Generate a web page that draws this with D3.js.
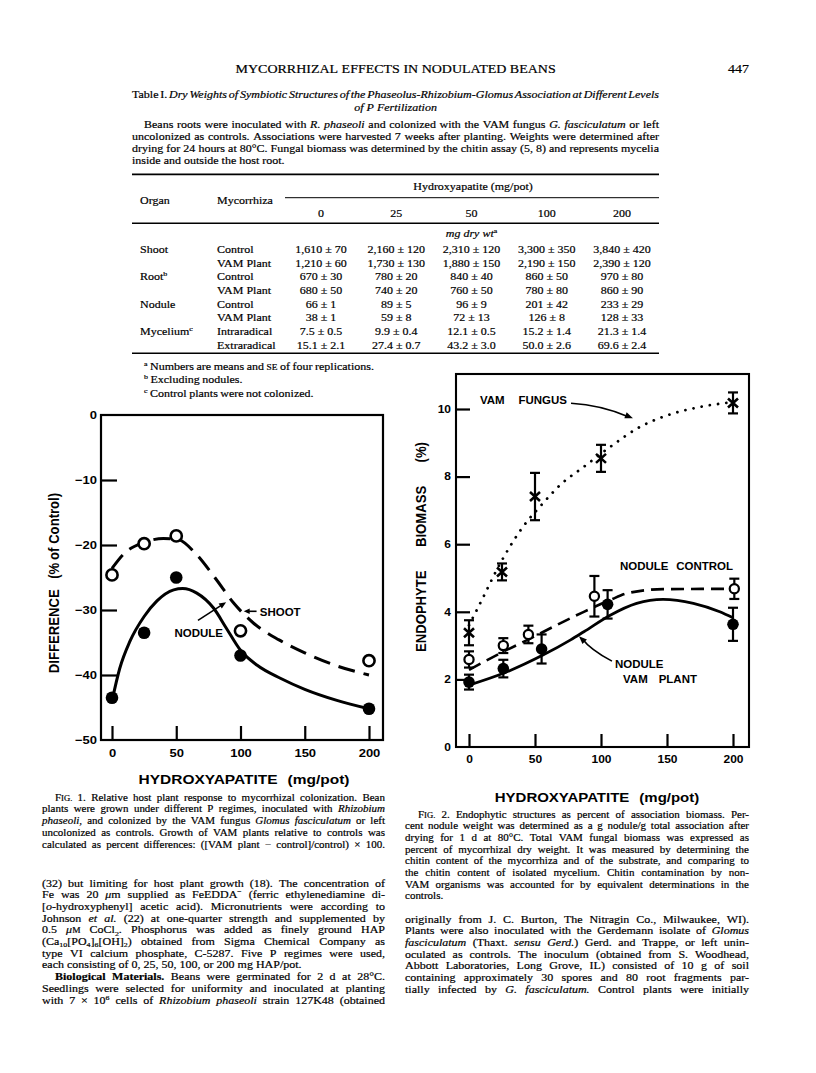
<!DOCTYPE html>
<html><head><meta charset="utf-8">
<script src="https://cdn.jsdelivr.net/npm/d3@7"></script>
<style>html,body{margin:0;padding:0;background:#fff;}svg{display:block;}</style>
</head><body>
<svg id="page" width="816" height="1073" xmlns="http://www.w3.org/2000/svg"></svg>
<script>
// ================= DATA =================
// Table I
const hapColumns = ["0", "25", "50", "100", "200"];
const organLabels = ["Shoot", "", "Root^b^", "", "Nodule", "", "Mycelium^c^", ""];
const mycorrhizaLabels = ["Control", "VAM Plant", "Control", "VAM Plant", "Control", "VAM Plant", "Intraradical", "Extraradical"];
const shootControl = ["1,610 ± 70", "2,160 ± 120", "2,310 ± 120", "3,300 ± 350", "3,840 ± 420"];
const shootVAM = ["1,210 ± 60", "1,730 ± 130", "1,880 ± 150", "2,190 ± 150", "2,390 ± 120"];
const rootControl = ["670 ± 30", "780 ± 20", "840 ± 40", "860 ± 50", "970 ± 80"];
const rootVAM = ["680 ± 50", "740 ± 20", "760 ± 50", "780 ± 80", "860 ± 90"];
const noduleControl = ["66 ± 1", "89 ± 5", "96 ± 9", "201 ± 42", "233 ± 29"];
const noduleVAM = ["38 ± 1", "59 ± 8", "72 ± 13", "126 ± 8", "128 ± 33"];
const myceliumIntra = ["7.5 ± 0.5", "9.9 ± 0.4", "12.1 ± 0.5", "15.2 ± 1.4", "21.3 ± 1.4"];
const myceliumExtra = ["15.1 ± 2.1", "27.4 ± 0.7", "43.2 ± 3.0", "50.0 ± 2.6", "69.6 ± 2.4"];
const tableRows = [shootControl, shootVAM, rootControl, rootVAM, noduleControl, noduleVAM, myceliumIntra, myceliumExtra];

// Fig. 1 : difference (% of control)
const fig1X = [0, 25, 50, 100, 200];
const fig1Shoot = [-24.6, -19.8, -18.6, -33.2, -37.8];
const fig1Nodule = [-43.5, -33.5, -25.0, -37.0, -45.2];
const fig1ShootFitX = [0, 10, 25, 40, 52, 65, 80, 95, 110, 130, 150, 175, 200];
const fig1ShootFitY = [-23.6, -21.2, -19.6, -19.0, -19.2, -21.3, -25.0, -29.0, -32.0, -34.6, -36.6, -38.6, -40.0];
const fig1NoduleFitX = [0, 6, 14, 25, 35, 48, 55, 66, 79, 89, 100, 113, 131, 150, 175, 200];
const fig1NoduleFitY = [-44, -39, -34.8, -31, -28.6, -26.9, -26.7, -27.4, -29.7, -32.8, -36.2, -38.5, -40.5, -42.2, -43.9, -45.2];
const fig1YTicks = [0, -10, -20, -30, -40, -50];
const fig1XTicks = [0, 50, 100, 150, 200];

// Fig. 2 : endophyte biomass (%)
const fig2VamX = [0, 25, 50, 100, 200];
const fig2Vam = [3.38, 5.18, 7.41, 8.54, 10.18];
const fig2VamErr = [0.37, 0.25, 0.70, 0.40, 0.31];
const fig2CtrlX = [0, 26, 45, 95, 201];
const fig2Ctrl = [2.59, 3.00, 3.33, 4.46, 4.68];
const fig2CtrlErr = [0.24, 0.22, 0.26, 0.60, 0.30];
const fig2PlantX = [0, 26, 55, 105, 200];
const fig2Plant = [1.92, 2.32, 2.90, 4.22, 3.63];
const fig2PlantErr = [0.22, 0.26, 0.43, 0.42, 0.49];
const fig2VamFitX = [0, 11, 21, 31, 41, 56, 69, 87, 107, 130, 147, 170, 193, 200];
const fig2VamFitY = [3.6, 4.45, 5.24, 5.93, 6.52, 7.21, 7.75, 8.29, 8.88, 9.48, 9.77, 10.02, 10.17, 10.2];
const fig2CtrlFitX = [0, 26, 46, 69, 87, 107, 120, 147, 200];
const fig2CtrlFitY = [2.28, 2.82, 3.2, 3.66, 4.0, 4.35, 4.55, 4.67, 4.68];
const fig2PlantFitX = [0, 26, 56, 77, 87, 107, 127, 147, 170, 190, 200];
const fig2PlantFitY = [1.83, 2.18, 2.72, 3.17, 3.41, 3.9, 4.25, 4.37, 4.25, 4.0, 3.82];
const fig2YTicks = [0, 2, 4, 6, 8, 10];
const fig2XTicks = [0, 50, 100, 150, 200];

// Text
const headerText = "MYCORRHIZAL EFFECTS IN NODULATED BEANS";
const pageNumber = "447";
const tableTitle = ["Table I. _Dry Weights of Symbiotic Structures of the Phaseolus-Rhizobium-Glomus Association at Different Levels_", "_of P Fertilization_"];
const tableDescription = [
  "Beans roots were inoculated with _R. phaseoli_ and colonized with the VAM fungus _G. fasciculatum_ or left",
  "uncolonized as controls. Associations were harvested 7 weeks after planting. Weights were determined after",
  "drying for 24 hours at 80°C. Fungal biomass was determined by the chitin assay (5, 8) and represents mycelia",
  "inside and outside the host root."];
const tableFootnotes = ["^a^ Numbers are means and |se| of four replications.", "^b^ Excluding nodules.", "^c^ Control plants were not colonized."];
const fig1Caption = [
  "F|ig.| 1. Relative host plant response to mycorrhizal colonization. Bean",
  "plants were grown under different P regimes, inoculated with _Rhizobium_",
  "_phaseoli_, and colonized by the VAM fungus _Glomus fasciculatum_ or left",
  "uncolonized as controls. Growth of VAM plants relative to controls was",
  "calculated as percent differences: ([VAM plant − control]/control) × 100."];
const fig2Caption = [
  "F|ig.| 2. Endophytic structures as percent of association biomass. Per-",
  "cent nodule weight was determined as a g nodule/g total association after",
  "drying for 1 d at 80°C. Total VAM fungal biomass was expressed as",
  "percent of mycorrhizal dry weight. It was measured by determining the",
  "chitin content of the mycorrhiza and of the substrate, and comparing to",
  "the chitin content of isolated mycelium. Chitin contamination by non-",
  "VAM organisms was accounted for by equivalent determinations in the",
  "controls."];
const leftBody = [
  "(32) but limiting for host plant growth (18). The concentration of",
  "Fe was 20 _μ_m supplied as FeEDDA^−^ (ferric ethylenediamine di-",
  "[_o_-hydroxyphenyl] acetic acid). Micronutrients were according to",
  "Johnson _et al._ (22) at one-quarter strength and supplemented by",
  "0.5 _μ_|m| CoCl~2~. Phosphorus was added as finely ground HAP",
  "(Ca~10~[PO~4~]~6~[OH]~2~) obtained from Sigma Chemical Company as",
  "type VI calcium phosphate, C-5287. Five P regimes were used,",
  "each consisting of 0, 25, 50, 100, or 200 mg HAP/pot.",
  "*Biological Materials.* Beans were germinated for 2 d at 28°C.",
  "Seedlings were selected for uniformity and inoculated at planting",
  "with 7 × 10^6^ cells of _Rhizobium phaseoli_ strain 127K48 (obtained"];
const rightBody = [
  "originally from J. C. Burton, The Nitragin Co., Milwaukee, WI).",
  "Plants were also inoculated with the Gerdemann isolate of _Glomus_",
  "_fasciculatum_ (Thaxt. _sensu Gerd._) Gerd. and Trappe, or left unin-",
  "oculated as controls. The inoculum (obtained from S. Woodhead,",
  "Abbott Laboratories, Long Grove, IL) consisted of 10 g of soil",
  "containing approximately 30 spores and 80 root fragments par-",
  "tially infected by _G. fasciculatum._ Control plants were initially"];

// ================= HELPERS =================
const SERIF = "'Liberation Serif','Times New Roman',Times,serif";
const SANS = "'Liberation Sans',Arial,Helvetica,sans-serif";
const SY = 0.875; // vertical compression of the scanned page
const svg = d3.select('#page');
svg.append('rect').attr('width', 816).attr('height', 1073).attr('fill', '#fff');

function parseRich(str) {
  const runs = []; let st = {i:false,b:false,sup:false,sub:false,sc:false}; let buf = '';
  const push = () => { if (buf) { runs.push(Object.assign({t:buf}, st)); buf = ''; } };
  for (const ch of str) {
    if (ch === '_') { push(); st = Object.assign({}, st, {i:!st.i}); }
    else if (ch === '*') { push(); st = Object.assign({}, st, {b:!st.b}); }
    else if (ch === '^') { push(); st = Object.assign({}, st, {sup:!st.sup}); }
    else if (ch === '~') { push(); st = Object.assign({}, st, {sub:!st.sub}); }
    else if (ch === '|') { push(); st = Object.assign({}, st, {sc:!st.sc}); }
    else buf += ch;
  }
  push();
  const words = [[]];
  runs.forEach(r => {
    r.t.split(' ').forEach((p, k) => {
      if (k > 0) words.push([]);
      if (p) words[words.length - 1].push(Object.assign({}, r, {t:p}));
    });
  });
  return words.filter(w => w.length);
}
function makeWord(parent, runs, fs, family, weight) {
  const t = parent.append('text').attr('font-family', family).attr('font-size', fs)
    .attr('font-weight', weight || 'normal').attr('fill', '#000');
  if (family === SERIF) t.attr('stroke', '#000').attr('stroke-width', 0.22);
  let shift = 0;
  runs.forEach(r => {
    let size = fs, target = 0, txt = r.t;
    if (r.sup) { size = fs * 0.66; target = -fs * 0.38; }
    if (r.sub) { size = fs * 0.66; target = fs * 0.22; }
    if (r.sc) { size = fs * 0.78; txt = txt.toUpperCase(); }
    const ts = t.append('tspan').text(txt).attr('font-size', size).attr('dy', target - shift);
    shift = target;
    if (r.i) ts.attr('font-style', 'italic');
    if (r.b) ts.attr('font-weight', 'bold');
  });
  return t;
}
function textLine(parent, str, o) {
  const fs = o.fs || 12, family = o.family || SERIF, sy = (o.sy === undefined) ? SY : o.sy;
  const g = parent.append('g').attr('transform', `translate(${o.x},${o.y}) scale(1,${sy})`);
  const words = parseRich(str);
  const els = words.map(w => makeWord(g, w, fs, family, o.weight));
  const widths = els.map(e => e.node().getComputedTextLength());
  const total = d3.sum(widths);
  let gap = (o.gap !== undefined) ? o.gap : fs * 0.25;
  if (o.justify && words.length > 1) gap = (o.width - total) / (words.length - 1);
  const lineW = total + gap * (words.length - 1);
  let cx = 0;
  if (o.align === 'center') cx = -lineW / 2;
  if (o.align === 'right') cx = -lineW;
  els.forEach((e, k) => { e.attr('x', cx); cx += widths[k] + gap; });
  return g;
}
function paragraph(parent, lines, o) {
  lines.forEach((ln, k) => {
    const ind = (o.indent && o.indent[k]) || 0;
    const just = !(o.noJustify && o.noJustify.includes(k));
    textLine(parent, ln, {x: o.x + ind, y: o.y + k * o.pitch, width: o.width - ind, justify: just, fs: o.fs});
  });
}
function arrowHead(g, tip, from, len, half) {
  const dx = tip[0] - from[0], dy = tip[1] - from[1], L = Math.hypot(dx, dy);
  const ux = dx / L, uy = dy / L, bx = tip[0] - ux * len, by = tip[1] - uy * len;
  g.append('path').attr('d', `M${tip[0]},${tip[1]}L${bx - uy * half},${by + ux * half}L${bx + uy * half},${by - ux * half}Z`).attr('fill', '#000');
}

// ================= HEADER & TABLE =================
const page = svg.append('g');
textLine(page, headerText, {x: 395.6, y: 72.5, align: 'center', fs: 14});
textLine(page, pageNumber, {x: 749, y: 72.5, align: 'right', fs: 14});
textLine(page, tableTitle[0], {x: 132, y: 98, width: 527, justify: true, fs: 12});
textLine(page, tableTitle[1], {x: 395.6, y: 110.5, align: 'center', fs: 12});
paragraph(page, tableDescription, {x: 132, y: 127.5, pitch: 12.3, width: 527, fs: 12, indent: [12], noJustify: [3]});

const tbl = page.append('g');
const colX = d3.scalePoint().domain(hapColumns).range([321, 622]);
const rowY = d3.scaleLinear().domain([0, 1]).range([253, 266.67]);
[[174.3, 132, 659, 1.8], [197.7, 285, 659, 1], [223.3, 132, 659, 1.6], [353.3, 132, 659, 1.6]].forEach(r => {
  tbl.append('line').attr('x1', r[1]).attr('x2', r[2]).attr('y1', r[0]).attr('y2', r[0]).attr('stroke', '#000').attr('stroke-width', r[3]);
});
textLine(tbl, "Hydroxyapatite (mg/pot)", {x: 473, y: 190, align: 'center', fs: 12});
textLine(tbl, "Organ", {x: 140, y: 204, fs: 12});
textLine(tbl, "Mycorrhiza", {x: 217, y: 204, fs: 12});
hapColumns.forEach(c => textLine(tbl, c, {x: colX(c), y: 217, align: 'center', fs: 12}));
textLine(tbl, "_mg dry wt_^a^", {x: colX("50"), y: 237, align: 'center', fs: 12});
tableRows.forEach((row, i) => {
  if (organLabels[i]) textLine(tbl, organLabels[i], {x: 140, y: rowY(i), fs: 12});
  textLine(tbl, mycorrhizaLabels[i], {x: 217, y: rowY(i), fs: 12});
  row.forEach((v, j) => textLine(tbl, v, {x: colX(hapColumns[j]), y: rowY(i), align: 'center', fs: 12}));
});
tableFootnotes.forEach((f, k) => textLine(tbl, f, {x: 144, y: 369.5 + k * 13.5, fs: 12, gap: 2.5}));

// ================= FIG. 1 =================
const f1 = svg.append('g');
const f1x = d3.scaleLinear().domain([0, 200]).range([112, 369]);
const f1y = d3.scaleLinear().domain([0, -50]).range([415, 740]);
f1.append('rect').attr('x', 101).attr('y', f1y(0)).attr('width', 282).attr('height', f1y(-50) - f1y(0))
  .attr('fill', 'none').attr('stroke', '#000').attr('stroke-width', 2.2);
function styleAxis(g, fs) {
  g.select('.domain').remove();
  g.selectAll('line').attr('stroke', '#000').attr('stroke-width', 2.2);
  g.selectAll('text').attr('font-family', SANS).attr('font-weight', 'bold').attr('font-size', fs).attr('fill', '#000')
    .attr('transform', `scale(1,${SY})`);
}
f1.append('g').attr('transform', 'translate(101,0)')
  .call(d3.axisRight(f1y).tickValues([-10, -20, -30, -40]).tickSize(16).tickFormat(''))
  .call(g => styleAxis(g, 13));
f1.append('g').attr('transform', 'translate(97,0)')
  .call(d3.axisLeft(f1y).tickValues(fig1YTicks).tickSize(0).tickPadding(0).tickFormat(d => d === 0 ? '0' : '−' + Math.abs(d)))
  .call(g => styleAxis(g, 13));
f1.append('g').attr('transform', `translate(0,${f1y(-50)})`)
  .call(d3.axisTop(f1x).tickValues(fig1XTicks).tickSize(14).tickFormat(''))
  .call(g => styleAxis(g, 13));
f1.append('g').attr('transform', `translate(0,${f1y(-50) + 8.5})`)
  .call(d3.axisBottom(f1x).tickValues(fig1XTicks).tickSize(0).tickPadding(0))
  .call(g => styleAxis(g, 13));
textLine(f1, "HYDROXYAPATITE  (mg/pot)", {x: 244, y: 784, align: 'center', fs: 15.5, family: SANS, weight: 'bold', gap: 10});
const f1yt = f1.append('g').attr('transform', `translate(59,583) scale(1,${SY}) rotate(-90)`);
textLine(f1yt, "DIFFERENCE  (% of Control)", {x: 0, y: 0, align: 'center', fs: 15, family: SANS, weight: 'bold', sy: 1, gap: 4.6});
// rebuild with a wider gap between the two parts of the title
f1yt.selectAll('*').remove();
textLine(f1yt, "DIFFERENCE (%", {x: -103, y: 0, fs: 15, family: SANS, weight: 'bold', sy: 1, gap: 12});
textLine(f1yt, "of Control)", {x: 103, y: 0, align: 'right', fs: 15, family: SANS, weight: 'bold', sy: 1, gap: 4.2});

const line1 = d3.line().x(d => f1x(d[0])).y(d => f1y(d[1])).curve(d3.curveMonotoneX);
f1.append('path').attr('d', line1(d3.zip(fig1ShootFitX, fig1ShootFitY))).attr('fill', 'none')
  .attr('stroke', '#000').attr('stroke-width', 3).attr('stroke-dasharray', '17 9');
f1.append('path').attr('d', line1(d3.zip(fig1NoduleFitX, fig1NoduleFitY))).attr('fill', 'none')
  .attr('stroke', '#000').attr('stroke-width', 3);
f1.selectAll('.shoot').data(d3.zip(fig1X, fig1Shoot)).join('circle').attr('cx', d => f1x(d[0])).attr('cy', d => f1y(d[1]))
  .attr('r', 5.6).attr('fill', '#fff').attr('stroke', '#000').attr('stroke-width', 2.6);
f1.selectAll('.nod').data(d3.zip(fig1X, fig1Nodule)).join('circle').attr('cx', d => f1x(d[0])).attr('cy', d => f1y(d[1]))
  .attr('r', 6.3).attr('fill', '#000');
// labels & arrows
textLine(f1, "SHOOT", {x: f1x(115), y: f1y(-30.2) + 4.5, fs: 11.5, family: SANS, weight: 'bold'});
{
  const a = [f1x(112.5), f1y(-30.2)], b = [f1x(102.5), f1y(-30.2)];
  f1.append('line').attr('x1', a[0]).attr('y1', a[1]).attr('x2', b[0] + 3).attr('y2', b[1]).attr('stroke', '#000').attr('stroke-width', 1.6);
  arrowHead(f1, b, a, 6, 2.8);
}
textLine(f1, "NODULE", {x: f1x(67.5), y: f1y(-33.4) + 4.5, align: 'center', fs: 11.5, family: SANS, weight: 'bold'});
{
  const a = [f1x(66.9), f1y(-31.6)], b = [f1x(88.8), f1y(-28.8)];
  f1.append('line').attr('x1', a[0]).attr('y1', a[1]).attr('x2', b[0] - 3).attr('y2', b[1] + 2).attr('stroke', '#000').attr('stroke-width', 1.6);
  arrowHead(f1, b, a, 7, 3);
}

// ================= FIG. 2 =================
const f2 = svg.append('g');
const f2x = d3.scaleLinear().domain([0, 200]).range([469, 733]);
const f2y = d3.scaleLinear().domain([0, 10]).range([747, 409]);
f2.append('rect').attr('x', 456).attr('y', 374).attr('width', 293).attr('height', f2y(0) - 374)
  .attr('fill', 'none').attr('stroke', '#000').attr('stroke-width', 2.1);
f2.append('g').attr('transform', 'translate(456,0)')
  .call(d3.axisRight(f2y).tickValues([2, 4, 6, 8, 10]).tickSize(14).tickFormat(''))
  .call(g => styleAxis(g, 12));
f2.append('g').attr('transform', 'translate(451,0)')
  .call(d3.axisLeft(f2y).tickValues(fig2YTicks).tickSize(0).tickPadding(0))
  .call(g => styleAxis(g, 12));
f2.append('g').attr('transform', `translate(0,${f2y(0)})`)
  .call(d3.axisTop(f2x).tickValues(fig2XTicks).tickSize(13).tickFormat(''))
  .call(g => styleAxis(g, 12));
f2.append('g').attr('transform', `translate(0,${f2y(0) + 9})`)
  .call(d3.axisBottom(f2x).tickValues(fig2XTicks).tickSize(0).tickPadding(0))
  .call(g => styleAxis(g, 12));
textLine(f2, "HYDROXYAPATITE  (mg/pot)", {x: 597, y: 801.5, align: 'center', fs: 15, family: SANS, weight: 'bold', gap: 10});
const f2yt = f2.append('g').attr('transform', `translate(426,547) scale(1,${SY}) rotate(-90)`);
textLine(f2yt, "ENDOPHYTE BIOMASS (%)", {x: -120, y: 0, width: 240, justify: true, fs: 15, family: SANS, weight: 'bold', sy: 1});

const line2 = d3.line().x(d => f2x(d[0])).y(d => f2y(d[1])).curve(d3.curveMonotoneX);
f2.append('path').attr('d', line2(d3.zip(fig2VamFitX, fig2VamFitY))).attr('fill', 'none')
  .attr('stroke', '#000').attr('stroke-width', 2.8).attr('stroke-linecap', 'round').attr('stroke-dasharray', '0.01 8.3');
f2.append('path').attr('d', line2(d3.zip(fig2CtrlFitX, fig2CtrlFitY))).attr('fill', 'none')
  .attr('stroke', '#000').attr('stroke-width', 2.6).attr('stroke-dasharray', '13 7');
f2.append('path').attr('d', line2(d3.zip(fig2PlantFitX, fig2PlantFitY))).attr('fill', 'none')
  .attr('stroke', '#000').attr('stroke-width', 2.8);

function errorBars(xs, ys, es) {
  const g = f2.append('g').attr('stroke', '#000').attr('stroke-width', 2.2).attr('fill', 'none');
  d3.range(xs.length).forEach(i => {
    const x = f2x(xs[i]), y1 = f2y(ys[i] - es[i]), y2 = f2y(ys[i] + es[i]);
    g.append('line').attr('x1', x).attr('x2', x).attr('y1', y1).attr('y2', y2);
    g.append('line').attr('x1', x - 5).attr('x2', x + 5).attr('y1', y1).attr('y2', y1);
    g.append('line').attr('x1', x - 5).attr('x2', x + 5).attr('y1', y2).attr('y2', y2);
  });
}
errorBars(fig2VamX, fig2Vam, fig2VamErr);
errorBars(fig2CtrlX, fig2Ctrl, fig2CtrlErr);
errorBars(fig2PlantX, fig2Plant, fig2PlantErr);
f2.selectAll('.vam').data(d3.zip(fig2VamX, fig2Vam)).join('path')
  .attr('transform', d => `translate(${f2x(d[0])},${f2y(d[1])})`).attr('d', 'M-5,-4.5L5,4.5M-5,4.5L5,-4.5')
  .attr('stroke', '#000').attr('stroke-width', 2.6);
f2.selectAll('.ctrl').data(d3.zip(fig2CtrlX, fig2Ctrl)).join('circle').attr('cx', d => f2x(d[0])).attr('cy', d => f2y(d[1]))
  .attr('r', 4.6).attr('fill', '#fff').attr('stroke', '#000').attr('stroke-width', 2.2);
f2.selectAll('.plant').data(d3.zip(fig2PlantX, fig2Plant)).join('circle').attr('cx', d => f2x(d[0])).attr('cy', d => f2y(d[1]))
  .attr('r', 5.8).attr('fill', '#000');

function spreadLabel(g, words, xl, xr, y) {
  textLine(g, words.join(' '), {x: xl, y: y, width: xr - xl, justify: true, fs: 11.5, family: SANS, weight: 'bold'});
}
spreadLabel(f2, ["VAM", "FUNGUS"], f2x(8.3), f2x(74.2), f2y(10.16));
{
  const p0 = [f2x(77.3), f2y(10.17)], pc = [f2x(100), f2y(10.12)], p1 = [f2x(124.2), f2y(9.73)];
  f2.append('path').attr('d', `M${p0}Q${pc} ${p1[0] - 4},${p1[1] - 1.2}`).attr('fill', 'none').attr('stroke', '#000').attr('stroke-width', 1.6);
  arrowHead(f2, p1, [f2x(108), f2y(9.98)], 8, 3.2);
}
spreadLabel(f2, ["NODULE", "CONTROL"], f2x(114.4), f2x(200), f2y(5.25));
textLine(f2, "NODULE", {x: f2x(110.6), y: f2y(2.35), fs: 11.5, family: SANS, weight: 'bold'});
spreadLabel(f2, ["VAM", "PLANT"], f2x(116.7), f2x(172.7), f2y(1.88));
{
  const p0 = [f2x(108.3), f2y(2.54)], pc = [f2x(92), f2y(2.88)], p1 = [f2x(83.3), f2y(3.28)];
  f2.append('path').attr('d', `M${p0}Q${pc} ${p1[0] + 3},${p1[1] + 2.3}`).attr('fill', 'none').attr('stroke', '#000').attr('stroke-width', 1.6);
  arrowHead(f2, p1, [f2x(92), f2y(2.95)], 8, 3.2);
}

// ================= CAPTIONS & BODY TEXT =================
const txt = svg.append('g');
paragraph(txt, fig1Caption, {x: 42, y: 800.5, pitch: 11.8, width: 343, fs: 11, indent: [13]});
paragraph(txt, leftBody, {x: 42, y: 886.8, pitch: 11.67, width: 343, fs: 12, indent: {8: 13}, noJustify: [7]});
paragraph(txt, fig2Caption, {x: 405, y: 817.5, pitch: 11.67, width: 344, fs: 11, indent: [13], noJustify: [7]});
paragraph(txt, rightBody, {x: 405, y: 922.8, pitch: 11.67, width: 344, fs: 12});
</script>
</body></html>
